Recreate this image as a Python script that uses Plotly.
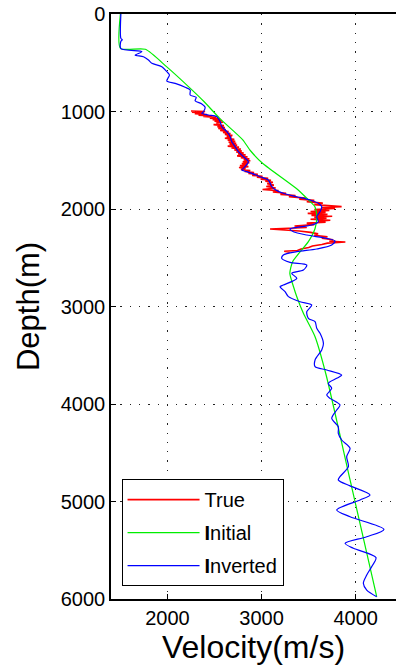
import plotly.graph_objects as go

# Well-log velocity profiles (depth in m, velocity in m/s)
true_depth = [995, 1000, 1008, 1015, 1022, 1030, 1038, 1045, 1052, 1060, 1068, 1076, 1085, 1093,
              1100, 1110, 1118, 1126, 1135, 1145, 1155, 1165, 1175, 1185, 1195, 1205, 1215, 1225,
              1235, 1245, 1255, 1265, 1275, 1285, 1295, 1305, 1315, 1325, 1335, 1345, 1355, 1365,
              1375, 1385, 1395, 1405, 1415, 1425, 1435, 1445, 1455, 1465, 1475, 1485, 1495, 1505,
              1515, 1525, 1535, 1545, 1555, 1565, 1575, 1585, 1595, 1605, 1615, 1625, 1635, 1645,
              1655, 1665, 1675, 1685, 1695, 1705, 1715, 1725, 1740, 1755, 1770, 1785, 1800, 1812,
              1825, 1838, 1850, 1862, 1875, 1888, 1900, 1912, 1925, 1940, 1955, 1968, 1976, 1985,
              1995, 2005, 2015, 2025, 2035, 2045, 2055, 2065, 2075, 2085, 2095, 2105, 2115, 2125,
              2135, 2145, 2160, 2175, 2190, 2205, 2215, 2225, 2240, 2255, 2270, 2285, 2300, 2315,
              2330, 2338, 2350, 2365, 2380, 2395, 2410, 2425, 2433, 2442]
true_vel = [2250, 2400, 2260, 2390, 2290, 2420, 2330, 2470, 2380, 2520, 2450, 2560, 2480, 2580,
            2500, 2590, 2520, 2560, 2490, 2600, 2530, 2610, 2540, 2620, 2560, 2650, 2590, 2670,
            2610, 2690, 2630, 2680, 2610, 2710, 2640, 2720, 2650, 2730, 2660, 2740, 2640, 2760,
            2680, 2780, 2710, 2790, 2730, 2810, 2750, 2830, 2740, 2850, 2780, 2870, 2810, 2880,
            2800, 2870, 2790, 2850, 2770, 2860, 2760, 2830, 2780, 2880, 2820, 2920, 2860, 2960,
            2900, 3010, 2950, 3070, 2990, 3100, 3040, 3120, 3060, 3130, 3050, 3150, 3010, 3180,
            3120, 3260, 3200, 3360, 3290, 3470, 3400, 3560, 3480, 3650, 3560, 3720, 3850, 3640,
            3780, 3560, 3720, 3520, 3680, 3490, 3700, 3530, 3750, 3560, 3690, 3520, 3730, 3600,
            3680, 3480, 3560, 3350, 3480, 3090, 3250, 3400, 3520, 3600, 3560, 3700, 3640, 3760,
            3720, 3890, 3700, 3640, 3540, 3500, 3420, 3380, 3240, 3300]

init_depth = [0, 352, 362, 540, 760, 900, 1070, 1290, 1400, 1530, 1790, 1890, 1975, 2080, 2200,
              2335, 2540, 2660, 2800, 2900, 3070, 3310, 3700, 4779, 5976]
init_vel = [1500, 1500, 1765, 1990, 2240, 2390, 2555, 2800, 2880, 3010, 3370, 3480, 3565, 3586,
            3568, 3497, 3330, 3300, 3340, 3374, 3444, 3568, 3685, 3940, 4223]

inv_depth = [0, 250, 265, 280, 355, 386, 421, 438, 472, 506, 540, 592, 626, 687, 711, 752, 779,
             831, 855, 889, 923, 957, 1002, 1019, 1036, 1053, 1105, 1156, 1207, 1258, 1310, 1361,
             1412, 1464, 1515, 1566, 1600, 1617, 1634, 1669, 1703, 1771, 1805, 1839, 1874, 1908,
             1942, 1976, 2027, 2079, 2130, 2164, 2188, 2205, 2233, 2267, 2301, 2328, 2369, 2410,
             2438, 2472, 2506, 2547, 2574, 2626, 2660, 2711, 2780, 2797, 2848, 2899, 2951, 2985,
             3053, 3121, 3156, 3224, 3275, 3378, 3446, 3549, 3617, 3651, 3703, 3737, 3788, 3839,
             3908, 3942, 4010, 4062, 4147, 4233, 4301, 4369, 4454, 4540, 4643, 4745, 4779, 4840,
             4933, 4984, 5087, 5156, 5286, 5361, 5429, 5480, 5575, 5668, 5754, 5839, 5908, 5976]
inv_vel = [1505, 1505, 1520, 1505, 1505, 1728, 1657, 1745, 1798, 1834, 1940, 1993, 2021, 1993,
           2082, 2188, 2241, 2241, 2305, 2294, 2365, 2400, 2382, 2365, 2435, 2524, 2559, 2577,
           2631, 2666, 2683, 2719, 2754, 2807, 2860, 2825, 2790, 2843, 2896, 2984, 3072, 3108,
           3150, 3231, 3374, 3515, 3603, 3639, 3621, 3586, 3603, 3533, 3374, 3302, 3338, 3480,
           3692, 3780, 3745, 3586, 3374, 3231, 3214, 3302, 3480, 3444, 3320, 3374, 3231, 3196,
           3249, 3285, 3409, 3533, 3480, 3497, 3568, 3586, 3621, 3657, 3639, 3568, 3568, 3692,
           3851, 3798, 3709, 3745, 3692, 3727, 3833, 3798, 3745, 3815, 3815, 3851, 3940, 3904,
           3922, 3833, 3815, 3940, 4152, 4046, 3798, 3940, 4300, 4117, 3887, 3975, 4215, 4170,
           4117, 4081, 4117, 4223]

x_ticks = [2000, 3000, 4000]
y_ticks = [0, 1000, 2000, 3000, 4000, 5000, 6000]

FONT = "Liberation Sans, Arial, Helvetica, sans-serif"

fig = go.Figure()
fig.add_trace(go.Scatter(x=true_vel, y=true_depth, mode="lines", name="True",
                         legendgroup="a", line=dict(color="#ff0000", width=1.6)))
fig.add_trace(go.Scatter(x=init_vel, y=init_depth, mode="lines", name="<b>I</b>nitial",
                         legendgroup="b", line=dict(color="#00ee00", width=1.2, shape="spline",
                                                    smoothing=0.6)))
fig.add_trace(go.Scatter(x=inv_vel, y=inv_depth, mode="lines", name="<b>I</b>nverted",
                         legendgroup="c", line=dict(color="#0000ff", width=1.2, shape="spline",
                                                    smoothing=0.8)))

grid = dict(showgrid=True, gridcolor="#222222", gridwidth=1.3, griddash="1.3px,8px")

fig.update_layout(
    width=396, height=670,
    margin=dict(l=111, r=0, t=14, b=71),
    paper_bgcolor="white", plot_bgcolor="white",
    font=dict(family=FONT, size=20, color="black"),
    showlegend=True,
    legend=dict(x=0.037, y=0.022, xanchor="left", yanchor="bottom",
                bgcolor="white", bordercolor="black", borderwidth=1,
                font=dict(size=20), tracegroupgap=4, itemwidth=72),
    xaxis=dict(range=[1400, 4428], tickvals=x_ticks, ticks="inside", ticklen=5,
               tickcolor="black", showline=True, linecolor="black", linewidth=1.5,
               mirror=True, zeroline=False, tickfont=dict(size=20),
               title=dict(text="Velocity(m/s)", font=dict(size=32), standoff=6), **grid),
    yaxis=dict(range=[6000, 0], tickvals=y_ticks, ticks="inside", ticklen=5,
               tickcolor="black", showline=True, linecolor="black", linewidth=1.5,
               zeroline=False, tickfont=dict(size=20),
               title=dict(text="Depth(m)", font=dict(size=31), standoff=12), **grid),
)

fig.write_html("out.html")
